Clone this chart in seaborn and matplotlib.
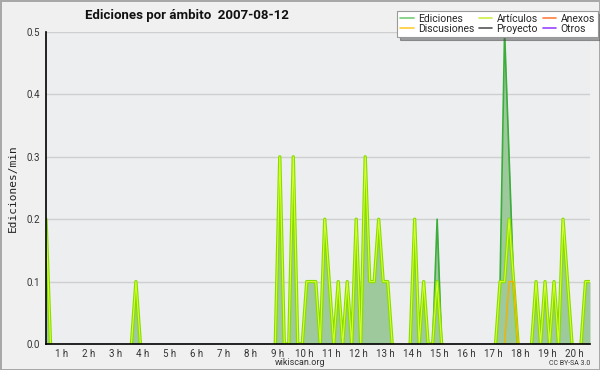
import numpy as np
import pandas as pd
import matplotlib
matplotlib.use("Agg")
import matplotlib.pyplot as plt
from matplotlib.lines import Line2D
from matplotlib.ticker import MultipleLocator, FixedLocator
import seaborn as sns

# ---- data (10-minute bins, centre times; edits per minute) ----
start_time = "00:25"
end_time = "20:35"

ediciones_times = ["00:25", "03:45", "09:05", "09:35", "10:05", "10:15", "10:25",
                   "10:45", "10:55", "11:15", "11:35", "11:55", "12:15", "12:25",
                   "12:35", "12:45", "12:55", "13:05", "14:05", "14:25", "14:55",
                   "17:15", "17:25", "17:35", "17:45", "18:35", "18:55", "19:15",
                   "19:35", "19:45", "20:25", "20:35"]
ediciones_vals = [0.2, 0.1, 0.3, 0.3, 0.1, 0.1, 0.1,
                  0.2, 0.1, 0.1, 0.1, 0.2, 0.3, 0.1,
                  0.1, 0.2, 0.1, 0.1, 0.2, 0.1, 0.2,
                  0.1, 0.5, 0.3, 0.1, 0.1, 0.1, 0.1,
                  0.2, 0.1, 0.1, 0.1]

articulos_times = ["00:25", "03:45", "09:05", "09:35", "10:05", "10:15", "10:25",
                   "10:45", "10:55", "11:15", "11:35", "11:55", "12:15", "12:25",
                   "12:35", "12:45", "12:55", "13:05", "14:05", "14:25", "14:55",
                   "17:15", "17:25", "17:35", "17:45", "18:35", "18:55", "19:15",
                   "19:35", "19:45", "20:25", "20:35"]
articulos_vals = [0.2, 0.1, 0.3, 0.3, 0.1, 0.1, 0.1,
                  0.2, 0.1, 0.1, 0.1, 0.2, 0.3, 0.1,
                  0.1, 0.2, 0.1, 0.1, 0.2, 0.1, 0.1,
                  0.1, 0.1, 0.2, 0.1, 0.1, 0.1, 0.1,
                  0.2, 0.1, 0.1, 0.1]

discusiones_times = ["17:35", "17:45"]
discusiones_vals = [0.1, 0.1]

anexos_times, anexos_vals = [], []
proyecto_times, proyecto_vals = [], []
otros_times, otros_vals = [], []

hour_ticks = list(range(1, 21))
hour_labels = [f"{h} h" for h in hour_ticks]

series_names = ["Ediciones", "Discusiones", "Artículos", "Proyecto", "Anexos", "Otros"]
legend_colors = {"Ediciones": "#77cc77", "Discusiones": "#ffcc33", "Artículos": "#ccee44",
                 "Proyecto": "#555555", "Anexos": "#ff7f3f", "Otros": "#9944ff"}


def to_hours(t):
    hh, mm = t.split(":")
    return int(hh) + int(mm) / 60.0


t0, t1 = to_hours(start_time), to_hours(end_time)
grid = np.round(np.arange(t0, t1 + 1e-6, 1 / 6), 6)


def build(times, vals, name):
    s = pd.Series(0.0, index=grid)
    for t, v in zip(times, vals):
        s.loc[np.round(to_hours(t), 6)] = v
    return pd.DataFrame({"hora": grid, "valor": s.values, "serie": name})


def segments(df):
    """Split into drawn segments, skipping runs that lie flat on the zero baseline."""
    v = df["valor"].to_numpy()
    prev = np.r_[0.0, v[:-1]]
    nxt = np.r_[v[1:], 0.0]
    keep = ~((v == 0) & (prev == 0) & (nxt == 0))
    seg = np.cumsum(~keep)
    out = df.copy()
    out["seg"] = seg
    return out[keep]


df_ed = build(ediciones_times, ediciones_vals, "Ediciones")
df_art = build(articulos_times, articulos_vals, "Artículos")
df_dis = build(discusiones_times, discusiones_vals, "Discusiones")
df_anx = build(anexos_times, anexos_vals, "Anexos")
df_pro = build(proyecto_times, proyecto_vals, "Proyecto")
df_otr = build(otros_times, otros_vals, "Otros")

# ---- style ----
sns.set_style("white")
plt.rcParams["font.family"] = ["Roboto", "DejaVu Sans"]

fig = plt.figure(figsize=(6, 3.7), dpi=100, facecolor="#f0f0f0",
                 edgecolor="#a8a8a8", linewidth=2)
ax = fig.add_axes([46 / 600, 1 - 344 / 370, 544 / 600, 312 / 370])
ax.set_facecolor("#eceef0")

# grid
for yv in [0.1, 0.2, 0.3, 0.4, 0.5]:
    ax.axhline(yv, color="#cfcfcf", lw=1, zorder=0.5)

# fill for Ediciones
ax.fill_between(df_ed["hora"], 0, df_ed["valor"], color="#9dc99d", lw=0, zorder=1)


def draw(df, color, lw, z):
    d = segments(df)
    if len(d) == 0:
        return
    sns.lineplot(data=d, x="hora", y="valor", units="seg", estimator=None, ax=ax,
                 color=color, lw=lw, zorder=z, legend=False, sort=True)


draw(df_ed, "#3aad3a", 1.2, 2)
draw(df_otr, "#9944ff", 1, 2.1)
draw(df_anx, "#ff7f3f", 1, 2.1)
draw(df_pro, "#555555", 1, 2.1)
draw(df_art, "#88dd00", 2.4, 2.2)
draw(df_art, "#d4ff30", 0.8, 2.3)
draw(df_dis, "#f0b400", 1.1, 2.4)

ax.set_xlim(t0, t1)
ax.set_ylim(0, 0.5)

# axes styling
for side in ["top", "right"]:
    ax.spines[side].set_visible(False)
for side in ["left", "bottom"]:
    ax.spines[side].set_color("black")
    ax.spines[side].set_linewidth(1.2)
    ax.spines[side].set_zorder(5)

ax.xaxis.set_major_locator(FixedLocator(hour_ticks))
ax.set_xticklabels(hour_labels)
ax.xaxis.set_minor_locator(MultipleLocator(1 / 6))
ax.yaxis.set_major_locator(MultipleLocator(0.1))
ax.yaxis.set_minor_locator(MultipleLocator(0.02))
ax.yaxis.set_major_formatter(matplotlib.ticker.FormatStrFormatter("%.1f"))
ax.tick_params(axis="both", which="major", direction="out", length=4, width=1,
               color="black", labelsize=7, labelcolor="#333333", pad=0.5)
ax.tick_params(axis="x", which="major", length=3.5, pad=0)
ax.tick_params(axis="both", which="minor", direction="out", length=3, width=1,
               color="black")
ax.set_xlabel("")
ax.set_ylabel("Ediciones/min", family="DejaVu Sans Mono", fontsize=8,
              color="#222222", labelpad=6)

# title & footer
fig.text(85 / 600, 1 - 16 / 370, "Ediciones por ámbito  2007-08-12",
         fontsize=9.5, fontweight="bold", ha="left", va="center", color="#111111")
fig.text(300 / 600, 1 - 362.5 / 370, "wikiscan.org", fontsize=6.5, ha="center",
         va="center", color="#333333")
fig.text(590 / 600, 1 - 363.5 / 370, "CC BY-SA 3.0", fontsize=5, ha="right",
         va="center", color="#333333")

# legend
handles = [Line2D([], [], color=legend_colors[n], lw=1.2) for n in series_names]
leg = fig.legend(handles, series_names, ncol=3, loc="upper right",
                 bbox_to_anchor=(598 / 600, 1 - 11 / 370), fontsize=7.5,
                 frameon=True, fancybox=False, shadow=True, handlelength=1.3,
                 handletextpad=0.4, columnspacing=0.45, labelspacing=0.0,
                 borderpad=0.3, borderaxespad=0)
leg.get_frame().set_edgecolor("#999999")
leg.get_frame().set_linewidth(0.8)
leg.set_zorder(10)

fig.savefig("out.png", dpi=100)
